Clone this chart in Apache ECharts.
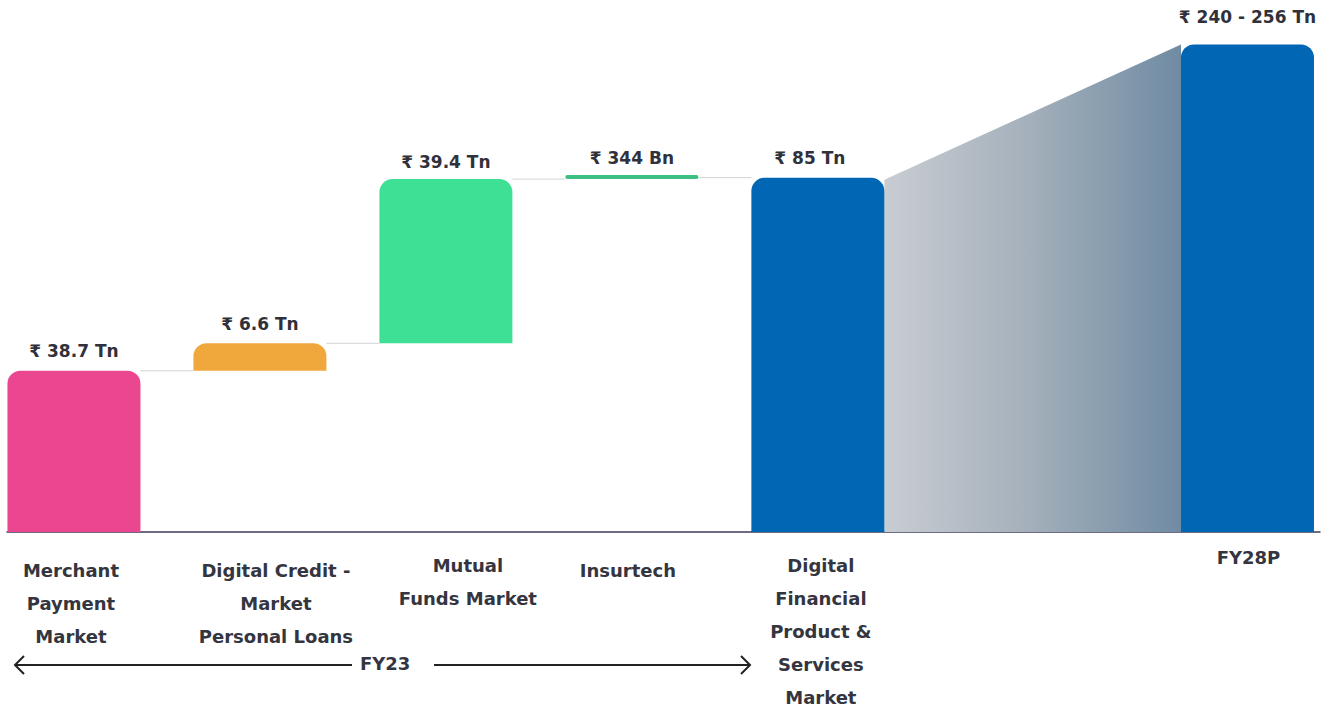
<!DOCTYPE html>
<html>
<head>
<meta charset="utf-8">
<title>Digital Financial Product & Services Market</title>
<script src="https://cdn.jsdelivr.net/npm/echarts@6/dist/echarts.min.js"></script>
<style>
  html, body { margin: 0; padding: 0; background: #fff; }
  #chart { width: 1332px; height: 709px; }
</style>
</head>
<body>
<div id="chart"></div>
<script>
// 数据
var categories = [
  'Merchant\nPayment\nMarket',
  'Digital Credit -\nMarket\nPersonal Loans',
  'Mutual\nFunds Market',
  'Insurtech',
  'Digital\nFinancial\nProduct &\nServices\nMarket',
  'FY28P'
];
var positions = [0, 1, 2, 3, 4, 6.31];          // x slot of each bar
var baseValues = [0, 38.7, 45.3, 84.7, 0, 0];   // invisible part of the waterfall
var barValues = [38.7, 6.6, 39.4, 0.344, 85, 117]; // FY28P drawn height
var valueLabels = ['₹ 38.7 Tn', '₹ 6.6 Tn', '₹ 39.4 Tn', '₹ 344 Bn', '₹ 85 Tn', '₹ 240 - 256 Tn'];
var barColors = ['#eb4791', '#f0a83c', '#3ee096', '#3cbf80', '#0167b4', '#0167b4'];
var periodLabel = 'FY23';

var BAR_W = 133;
var MIN_H = 4;
var FONT = '"DejaVu Sans", "Noto Sans", sans-serif';

var chart = echarts.init(document.getElementById('chart'), null, { renderer: 'svg' });

// 柱子（瀑布图）
var labelDist = [11, 11, 9, 9, 11, 19];
var labelShift = [0, 0, 0, 0, -8, 0];
var barData = positions.map(function (x, i) { return [x, baseValues[i], barValues[i], i]; });

function renderBar(params, api) {
  var i = api.value(3);
  var x = api.value(0), b = api.value(1), v = api.value(2);
  var p0 = api.coord([x, b]);
  var p1 = api.coord([x, b + v]);
  var h = Math.max(p0[1] - p1[1], MIN_H);
  var thin = i === 3;
  return {
    type: 'rect',
    shape: { x: p0[0] - BAR_W / 2, y: p0[1] - h, width: BAR_W, height: h, r: thin ? 3 : [13, 13, 0, 0] },
    style: { fill: barColors[i] },
    textContent: {
      style: {
        text: valueLabels[i],
        fill: '#30313a',
        font: 'bold 17px ' + FONT
      }
    },
    textConfig: { position: 'top', distance: labelDist[i], offset: [labelShift[i], 0] }
  };
}

// 类目标签
var labelOffsets = [[-3, 22], [16, 22], [22, 17], [-4, 22], [3, 17], [1, 9]];
var nameData = positions.map(function (x, i) {
  return {
    value: [x, 0],
    name: categories[i],
    label: { offset: [labelOffsets[i][0], 0], distance: labelOffsets[i][1] }
  };
});

// 连接线 + 渐变过渡块
function renderLinks(params, api) {
  var children = [];
  var half = BAR_W / 2;
  var pos = positions, tops = positions.map(function (x, i) { return baseValues[i] + barValues[i]; });
  for (var i = 0; i < 4; i++) {
    var a = api.coord([pos[i], tops[i]]);
    var b = api.coord([pos[i + 1], tops[i]]);
    children.push({
      type: 'line',
      shape: { x1: a[0] + half, y1: a[1], x2: b[0] - half, y2: b[1] },
      style: { stroke: '#cfd3d8', lineWidth: 1 }
    });
  }
  var p1 = api.coord([pos[4], tops[4]]);
  var p2 = api.coord([pos[5], tops[5]]);
  var base = api.coord([pos[4], 0]);
  var x1 = p1[0] + half, x2 = p2[0] - half;
  children.push({
    type: 'polygon',
    shape: { points: [[x1, p1[1] + 2], [x2, p2[1]], [x2, base[1]], [x1, base[1]]] },
    style: {
      fill: new echarts.graphic.LinearGradient(0, 0, 1, 0, [
        { offset: 0, color: '#c8cdd2' },
        { offset: 0.5, color: '#a3afba' },
        { offset: 1, color: '#6f8ba3' }
      ])
    }
  });
  return { type: 'group', children: children };
}

var option = {
  backgroundColor: '#ffffff',
  animation: false,
  grid: { left: 7, right: 12, top: 32, bottom: 177, containLabel: false },
  xAxis: {
    type: 'value',
    min: -0.36,
    max: 6.7,
    axisLine: { show: true, onZero: true, lineStyle: { color: '#3b3d5c', width: 1.5 } },
    axisTick: { show: false },
    axisLabel: { show: false },
    splitLine: { show: false }
  },
  yAxis: {
    type: 'value',
    min: 0,
    max: 120,
    axisLine: { show: false },
    axisTick: { show: false },
    axisLabel: { show: false },
    splitLine: { show: false }
  },
  series: [
    {
      type: 'custom',
      name: 'links',
      renderItem: renderLinks,
      data: [[0, 0]],
      silent: true,
      z: 1
    },
    {
      type: 'custom',
      name: 'bars',
      renderItem: renderBar,
      encode: { x: 0, y: 2 },
      data: barData,
      z: 3
    },
    {
      type: 'scatter',
      name: 'names',
      symbolSize: 0,
      itemStyle: { opacity: 1 },
      data: nameData,
      label: {
        show: true,
        position: 'bottom',
        color: '#34353f',
        opacity: 1,
        fontFamily: FONT,
        fontSize: 18,
        fontWeight: 'bold',
        lineHeight: 33,
        align: 'center',
        formatter: '{b}'
      },
      silent: true,
      z: 4
    }
  ],
  graphic: [
    { type: 'line', shape: { x1: 15, y1: 665, x2: 352, y2: 665 }, style: { stroke: '#222', lineWidth: 2 } },
    { type: 'polyline', shape: { points: [[24, 656], [15, 665], [24, 674]] }, style: { stroke: '#222', lineWidth: 2, fill: null } },
    { type: 'line', shape: { x1: 434, y1: 665, x2: 750, y2: 665 }, style: { stroke: '#222', lineWidth: 2 } },
    { type: 'polyline', shape: { points: [[741, 656], [750, 665], [741, 674]] }, style: { stroke: '#222', lineWidth: 2, fill: null } },
    {
      type: 'text', left: 360, top: 654,
      style: { text: periodLabel, fill: '#34353f', font: 'bold 18px ' + FONT }
    }
  ]
};

chart.setOption(option);
window.addEventListener('resize', function () { chart.resize(); });
</script>
</body>
</html>
